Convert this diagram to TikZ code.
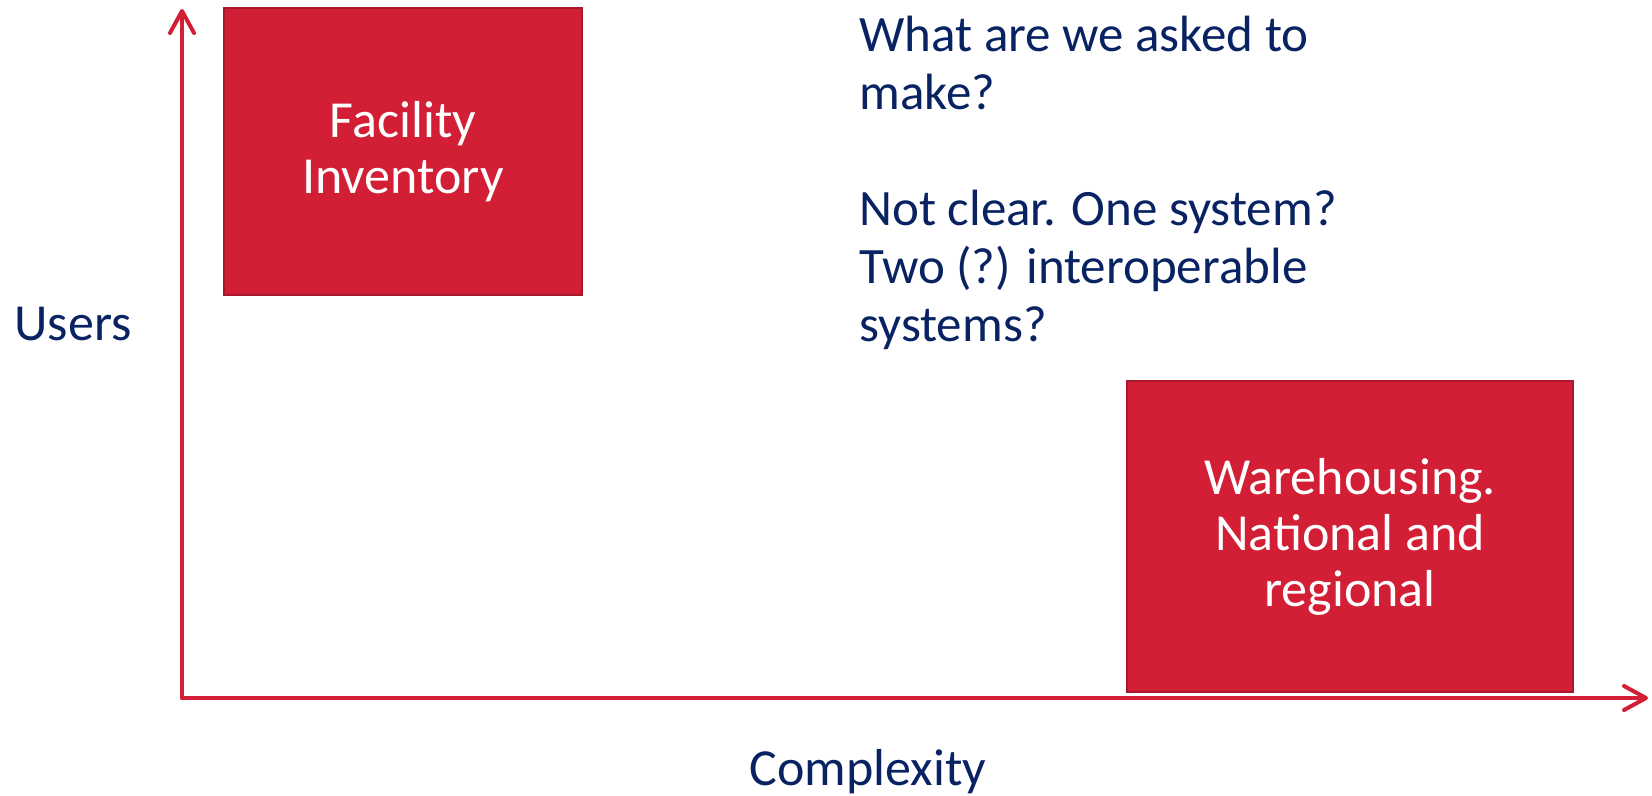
\documentclass[tikz,border=0pt]{standalone}
\usepackage{fontspec}
\setmainfont{Carlito}
\usetikzlibrary{arrows.meta}
\definecolor{boxred}{RGB}{210,31,54}
\definecolor{boxedge}{RGB}{168,24,44}
\definecolor{navy}{RGB}{8,34,98}
\begin{document}
\begin{tikzpicture}[x=0.5pt,y=-0.5pt,
    axis/.style={boxred,line width=2pt,line cap=round,-{Straight Barb[length=11pt,width=12pt,round]}},
    block/.style={fill=boxred,draw=boxedge,line width=1pt,text=white,align=center,
        font=\fontsize{26}{28}\selectfont},
    label/.style={text=navy,inner sep=0pt,font=\fontsize{26}{28}\selectfont}]
    \useasboundingbox (0,0) rectangle (1652,796);
    \coordinate (O) at (182,698);
    \coordinate (ytop) at (182,9);
    \coordinate (xend) at (1648,698);
    \draw[axis] (O) -- (ytop);
    \draw[axis] (O) -- (xend);
    \node[block,minimum width=179pt,minimum height=143.5pt] (facility) at (403,151.5) {Facility\\Inventory};
    \node[block,minimum width=223pt,minimum height=155.5pt] (warehouse) at (1350,536.5) {Warehousing.\\National and\\regional};
    \node[label,anchor=base west] (users) at (14,341) {Users};
    \node[label,anchor=base] (complexity) at (868,785) {Complexity};
    % base of a multi-line node is its last line
    \node[text=navy,anchor=base west,align=left,inner sep=0pt,
        font=\fontsize{25.5}{29}\selectfont] (question) at (859,342)
        {What are we asked to\\make?\\[29pt]Not clear. One system?\\Two (?) interoperable\\systems?};
\end{tikzpicture}
\end{document}
